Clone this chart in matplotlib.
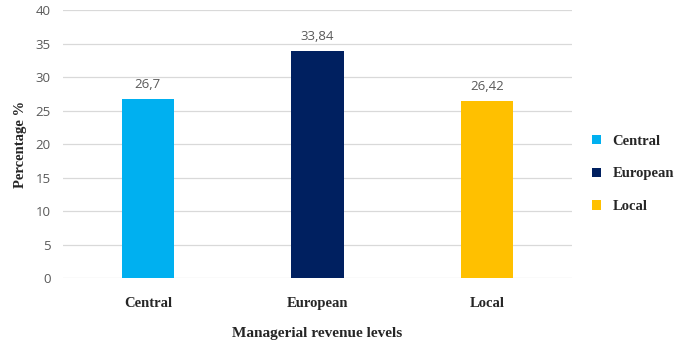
import matplotlib
matplotlib.use("Agg")
from matplotlib import pyplot as plt
from matplotlib.patches import Patch

categories = ["Central", "European", "Local"]
values = [26.7, 33.84, 26.42]
value_labels = ["26,7", "33,84", "26,42"]
colors = ["#00B0F0", "#002060", "#FFC000"]

fig = plt.figure(figsize=(6.85, 3.48), dpi=100)
ax = fig.add_axes([0.092, 0.201, 0.743, 0.77])

x = range(len(categories))
bars = ax.bar(x, values, width=0.31, color=colors, zorder=3)

for bar, lab in zip(bars, value_labels):
    ax.text(bar.get_x() + bar.get_width() / 2, bar.get_height() + 1.2, lab,
            ha="center", va="bottom", fontsize=9.5, color="#595959",
            family="Open Sans")

ax.set_xlim(-0.5, 2.5)
ax.set_ylim(0, 40)
ax.set_yticks(range(0, 41, 5))
ax.grid(axis="y", color="#d9d9d9", linewidth=0.9, zorder=0)
for s in ax.spines.values():
    s.set_visible(False)
ax.tick_params(axis="y", length=0, labelsize=9.5, labelcolor="#595959", pad=9)
ax.tick_params(axis="x", length=0, pad=14)
for t in ax.get_yticklabels():
    t.set_family("Open Sans")

ax.set_xticks(list(x))
ax.set_xticklabels(categories, family="Liberation Serif", fontweight="bold",
                   fontsize=10.5, color="#262626")

ax.set_xlabel("Managerial revenue levels", family="Liberation Serif",
              fontweight="bold", fontsize=11, color="#262626", labelpad=12)
ax.set_ylabel("Percentage %", family="Liberation Serif", fontweight="bold",
              fontsize=10.5, color="#262626", labelpad=6)

handles = [Patch(facecolor=c, label=l) for c, l in zip(colors, categories)]
leg = fig.legend(handles=handles, loc="center left", bbox_to_anchor=(0.845, 0.5),
                 frameon=False, handlelength=0.6, handleheight=0.6,
                 labelspacing=1.35, handletextpad=0.8,
                 prop={"family": "Liberation Serif", "weight": "bold", "size": 10.5})
for t in leg.get_texts():
    t.set_color("#262626")

fig.savefig("out.png", dpi=100)
